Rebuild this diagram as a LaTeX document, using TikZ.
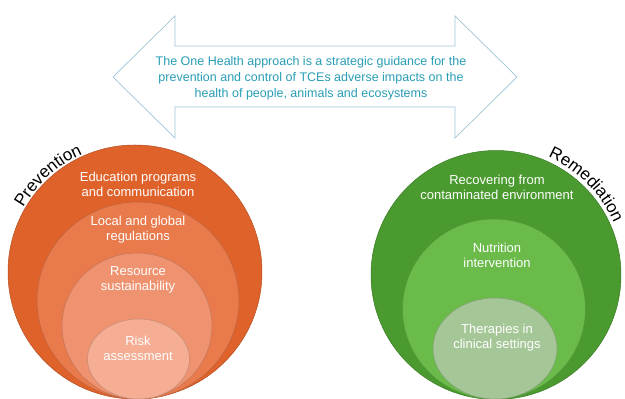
\documentclass[tikz,border=0pt]{standalone}
\usepackage{fontspec}
\setmainfont{Liberation Sans}
\usetikzlibrary{decorations.text}
\definecolor{arrowline}{RGB}{160,196,214}
\definecolor{arrowtext}{RGB}{40,158,180}
\definecolor{orangeA}{RGB}{224,98,43}
\definecolor{orangeB}{RGB}{233,122,76}
\definecolor{orangeC}{RGB}{239,146,112}
\definecolor{orangeD}{RGB}{245,173,147}
\definecolor{greenA}{RGB}{74,154,47}
\definecolor{greenB}{RGB}{106,187,74}
\definecolor{greenC}{RGB}{165,199,152}
\tikzset{
  ringtext/.style={text=white, align=center, font=\fontsize{13}{15}\selectfont},
  ring/.style={fill=#1, draw=#1!80!black, line width=0.5pt}
}
\begin{document}
\begin{tikzpicture}[x=1pt,y=1pt]
  \useasboundingbox (0,0) rectangle (625,399);
  \draw[arrowline, fill=white, line width=0.7pt]
    (113,322) -- (175,383) -- (175,353) -- (455,353) -- (455,383) -- (517,322)
    -- (455,261) -- (455,292) -- (175,292) -- (175,261) -- cycle;
  \node[text=arrowtext, align=center, font=\fontsize{12.5}{16}\selectfont] (onehealth) at (311,321)
    {The One Health approach is a strategic guidance for the\\
     prevention and control of TCEs adverse impacts on the\\
     health of people, animals and ecosystems};
  \foreach \cx/\cy/\rx/\ry/\col in {135/127/127/127/orangeA, 138/98.5/101/98.5/orangeB,
      137/73/75/73/orangeC, 138.5/40/51/40/orangeD,
      496/124/125/124.5/greenA, 494/90/91.5/90/greenB, 495/50.5/62/50.5/greenC}
  {
    \draw[ring=\col] (\cx,\cy) ellipse [x radius=\rx, y radius=\ry];
  }
  \node[ringtext] (edu) at (138,215) {Education programs\\and communication};
  \node[ringtext] (reg) at (138,169.5) {Local and global\\regulations};
  \node[ringtext] (res) at (138,119.5) {Resource\\sustainability};
  \node[ringtext] (risk) at (138,51) {Risk\\assessment};
  \node[ringtext] (rec) at (497,211.5) {Recovering from\\contaminated environment};
  \node[ringtext] (nut) at (497,143.5) {Nutrition\\intervention};
  \node[ringtext] (ther) at (497,61.5) {Therapies in\\clinical settings};
  \path[decorate, decoration={text along path, text align=center,
      text={|\fontsize{17}{20}\selectfont|Prevention}}]
    (135,127) ++(162:129) arc[start angle=162, end angle=102, radius=129];
  \path[decorate, decoration={text along path, text align=center,
      text={|\fontsize{17}{20}\selectfont|Remediation}}]
    (496,124) ++(75:129) arc[start angle=75, end angle=15, radius=129];
\end{tikzpicture}
\end{document}
